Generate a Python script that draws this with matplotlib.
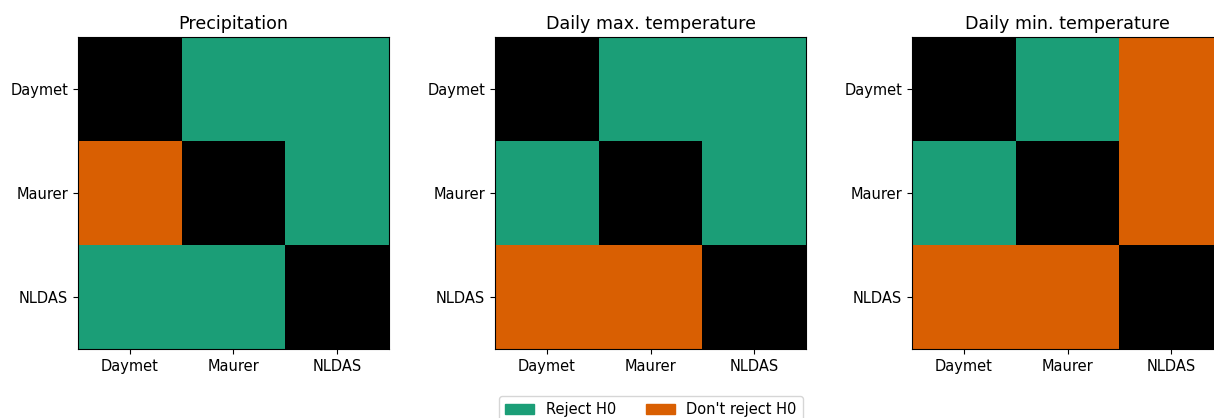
import numpy as np
import matplotlib
matplotlib.use("Agg")
import matplotlib.pyplot as plt
from matplotlib.colors import ListedColormap
from matplotlib.patches import Patch

datasets = ["Daymet", "Maurer", "NLDAS"]
titles = ["Precipitation", "Daily max. temperature", "Daily min. temperature"]

# 1 = reject H0, 0 = don't reject H0, 2 = diagonal (same dataset)
precip = [[2, 1, 1],
          [0, 2, 1],
          [1, 1, 2]]
tmax = [[2, 1, 1],
        [1, 2, 1],
        [0, 0, 2]]
tmin = [[2, 1, 0],
        [1, 2, 0],
        [0, 0, 2]]

green = "#1b9e77"
orange = "#d95f02"
cmap = ListedColormap([orange, green, "black"])

plt.rcParams["font.size"] = 10.5

W, H = 1214, 418
fig = plt.figure(figsize=(W / 100, H / 100), dpi=100)

lefts = [78, 495, 912]
for left, title, mat in zip(lefts, titles, [precip, tmax, tmin]):
    ax = fig.add_axes([left / W, (H - 349) / H, 311 / W, 312 / H])
    ax.imshow(np.array(mat), cmap=cmap, vmin=0, vmax=2, aspect="auto",
              interpolation="nearest")
    ax.set_xticks(range(3))
    ax.set_xticklabels(datasets)
    ax.set_yticks(range(3))
    ax.set_yticklabels(datasets)
    ax.set_title(title, fontsize=12.6)

handles = [Patch(color=green, label="Reject H0"),
           Patch(color=orange, label="Don't reject H0")]
fig.legend(handles=handles, ncol=2, loc="upper center",
           bbox_to_anchor=(651 / W, 1 - 389 / H))

fig.savefig("out.png", dpi=100)
